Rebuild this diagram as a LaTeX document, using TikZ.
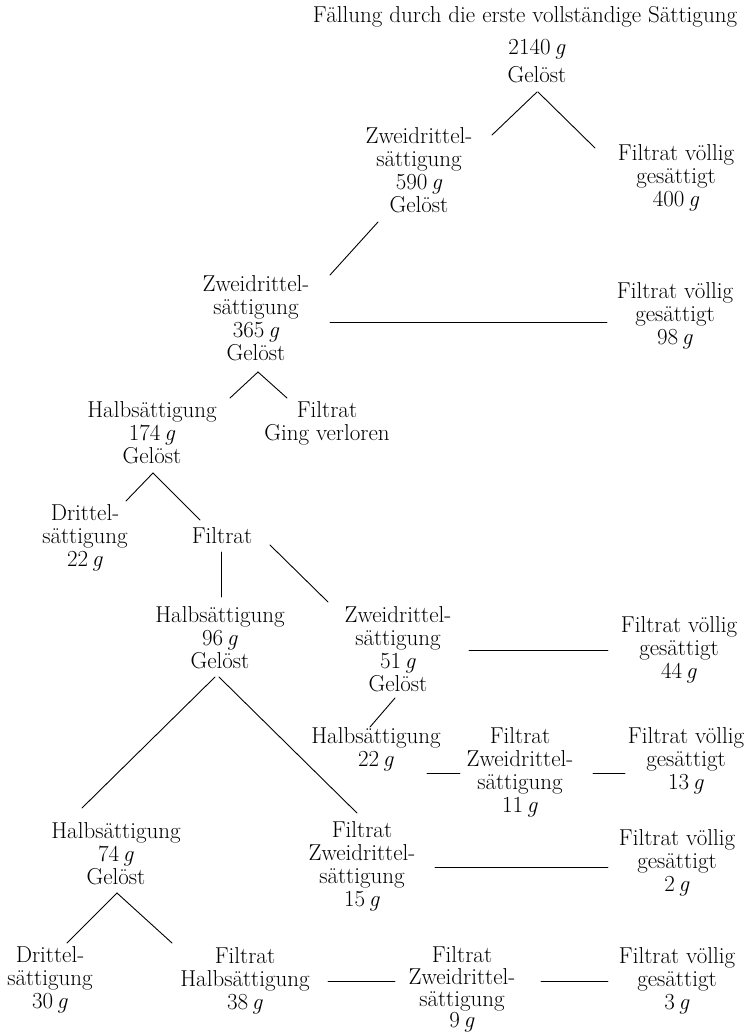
\documentclass[tikz,border=0pt]{standalone}
\usetikzlibrary{calc}
\tikzset{
  lbl/.style={anchor=base, inner sep=0pt, font=\fontsize{23}{23}\selectfont},
  conn/.style={line width=0.9pt, line cap=round}
}
\newcommand{\gr}{\,\textit{g}}
\newcommand{\stk}[1]{\begin{tabular}[t]{@{}c@{}}#1\end{tabular}}
\newcommand{\link}[6]{\draw[conn] ($(#1.base)+(#2,#3)$) -- ($(#4.base)+(#5,#6)$);}
\begin{document}
\begin{tikzpicture}[x=1pt,y=-1pt]
\fill[white] (0,0) rectangle (751,1033);
\useasboundingbox (0,0) rectangle (751,1033);

\node[lbl] (title) at (525,23) {Fällung durch die erste vollständige Sättigung};
\node[lbl] (n2140) at (537,55) {\stk{2140\gr\\[5pt]Gelöst}};
\node[lbl] (n590) at (419,143) {\stk{Zweidrittel-\\sättigung\\590\gr\\Gelöst}};
\node[lbl] (n400) at (676,160) {\stk{Filtrat völlig\\gesättigt\\400\gr}};
\node[lbl] (n365) at (256,291) {\stk{Zweidrittel-\\sättigung\\365\gr\\Gelöst}};
\node[lbl] (n98) at (675,298) {\stk{Filtrat völlig\\gesättigt\\98\gr}};
\node[lbl] (n174) at (152,417) {\stk{Halbsättigung\\174\gr\\Gelöst}};
\node[lbl] (nGV) at (327,417) {\stk{Filtrat\\Ging verloren}};
\node[lbl] (nD22) at (85,520) {\stk{Drittel-\\sättigung\\22\gr}};
\node[lbl] (nF) at (222,543) {Filtrat};
\node[lbl] (n96) at (220,622) {\stk{Halbsättigung\\96\gr\\Gelöst}};
\node[lbl] (n51) at (398,622) {\stk{Zweidrittel-\\sättigung\\51\gr\\Gelöst}};
\node[lbl] (n44) at (679,632) {\stk{Filtrat völlig\\gesättigt\\44\gr}};
\node[lbl] (nH22) at (376,743) {\stk{Halbsättigung\\22\gr}};
\node[lbl] (nF11) at (520,743) {\stk{Filtrat\\Zweidrittel-\\sättigung\\11\gr}};
\node[lbl] (n13) at (686,743) {\stk{Filtrat völlig\\gesättigt\\13\gr}};
\node[lbl] (n74) at (116,838) {\stk{Halbsättigung\\74\gr\\Gelöst}};
\node[lbl] (nF15) at (362,837) {\stk{Filtrat\\Zweidrittel-\\sättigung\\15\gr}};
\node[lbl] (n2) at (677,845) {\stk{Filtrat völlig\\gesättigt\\2\gr}};
\node[lbl] (nD30) at (50,962) {\stk{Drittel-\\sättigung\\30\gr}};
\node[lbl] (nF38) at (245,963) {\stk{Filtrat\\Halbsättigung\\38\gr}};
\node[lbl] (nF9) at (462,962) {\stk{Filtrat\\[-1pt]Zweidrittel-\\[-1pt]sättigung\\[-1.5pt]9\gr}};
\node[lbl] (n3) at (677,963) {\stk{Filtrat völlig\\gesättigt\\3\gr}};

\link{n2140}{0}{37}{n590}{73}{-8}
\link{n2140}{1}{37}{n400}{-81}{-12}
\link{n590}{-41}{79}{n365}{74}{-16}
\link{n365}{74}{31}{n98}{-68}{24}
\link{n365}{2}{81}{n174}{78}{-19}
\link{n365}{2}{81}{nGV}{-40}{-19}
\link{n174}{1}{56}{nD22}{41}{-19}
\link{n174}{1}{56}{nF}{-22}{-23}
\link{nF}{-1}{9}{n96}{1}{-25}
\link{nF}{48}{2}{n51}{-70}{-20}
\link{n51}{71}{28}{n44}{-71}{18}
\link{n51}{-3}{76}{nH22}{-6}{-16}
\link{nH22}{51}{30}{nF11}{-60}{30}
\link{nF11}{73}{30}{n13}{-61}{30}
\link{n96}{-5}{55}{n74}{-34}{-30}
\link{n96}{-1}{55}{nF15}{-5}{-24}
\link{nF15}{73}{30}{n2}{-69}{22}
\link{n74}{1}{55}{nD30}{17}{-19}
\link{n74}{1}{55}{nF38}{-73}{-20}
\link{nF38}{83}{18}{nF9}{-67}{19}
\link{nF9}{79}{19}{n3}{-69}{18}
\end{tikzpicture}
\end{document}
